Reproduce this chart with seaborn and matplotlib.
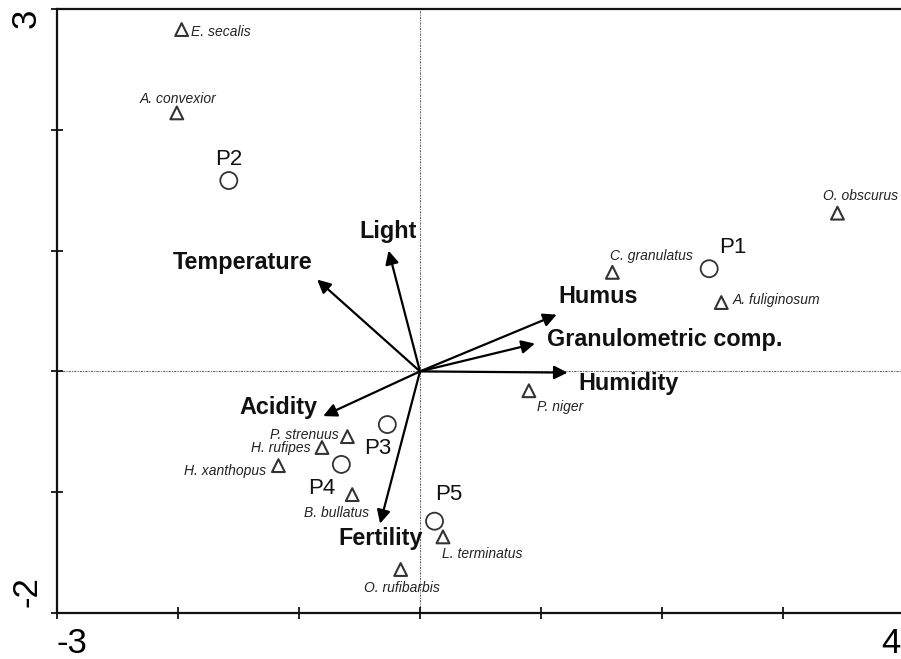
import matplotlib
matplotlib.use("Agg")
import matplotlib.pyplot as plt
import matplotlib.transforms as mtrans
import seaborn as sns
import pandas as pd

# Sites (circles)
site_names = ["P1", "P2", "P3", "P4", "P5"]
site_x = [2.39, -1.58, -0.27, -0.65, 0.12]
site_y = [0.85, 1.58, -0.44, -0.77, -1.24]

# Species (triangles)
species_names = ["E. secalis", "A. convexior", "O. obscurus", "C. granulatus",
                 "A. fuliginosum", "P. niger", "P. strenuus", "H. rufipes",
                 "H. xanthopus", "B. bullatus", "L. terminatus", "O. rufibarbis"]
species_x = [-1.97, -2.01, 3.45, 1.59, 2.49, 0.90, -0.60, -0.81, -1.17, -0.56, 0.19, -0.16]
species_y = [2.83, 2.14, 1.31, 0.82, 0.57, -0.16, -0.54, -0.63, -0.78, -1.02, -1.37, -1.64]

# Environmental variables (arrows)
env_names = ["Light", "Temperature", "Humus", "Granulometric comp.",
             "Humidity", "Acidity", "Fertility"]
env_x = [-0.26, -0.85, 1.13, 0.95, 1.22, -0.80, -0.33]
env_y = [1.00, 0.76, 0.47, 0.23, -0.01, -0.37, -1.26]

sites = pd.DataFrame({"name": site_names, "x": site_x, "y": site_y})
species = pd.DataFrame({"name": species_names, "x": species_x, "y": species_y})

sns.set_style("ticks")
plt.rcParams["font.family"] = ["Liberation Sans", "DejaVu Sans"]

fig = plt.figure(figsize=(9.01, 6.59), dpi=100)
ax = fig.add_axes([57 / 901, 46 / 659, 847 / 901, 604 / 659])

ax.axhline(0, color="#666666", lw=0.8, ls=(0, (2, 1, 1, 1)), zorder=0)
ax.axvline(0, color="#666666", lw=0.8, ls=(0, (2, 1, 1, 1)), zorder=0)

sns.scatterplot(data=species, x="x", y="y", marker="^", s=85,
                facecolor="none", edgecolor="#333333", linewidth=1.5, ax=ax, zorder=3)
sns.scatterplot(data=sites, x="x", y="y", marker="o", s=150,
                facecolor="none", edgecolor="#333333", linewidth=1.3, ax=ax, zorder=3)

# label placement (offset in points, ha, va)
species_lbl = {
    "E. secalis": (7, -2, "left", "center"),
    "A. convexior": (1, 10, "center", "center"),
    "O. obscurus": (17, 12, "center", "center"),
    "C. granulatus": (28, 12, "center", "center"),
    "A. fuliginosum": (8, 2, "left", "center"),
    "P. niger": (6, -12, "left", "center"),
    "P. strenuus": (-6, 1, "right", "center"),
    "H. rufipes": (-8, 0, "right", "center"),
    "H. xanthopus": (-9, -4, "right", "center"),
    "B. bullatus": (-11, -13, "center", "center"),
    "L. terminatus": (-1, -12, "left", "center"),
    "O. rufibarbis": (1, -13, "center", "center"),
}
for n, x, y in zip(species_names, species_x, species_y):
    dx, dy, ha, va = species_lbl[n]
    ax.annotate(n, (x, y), xytext=(dx, dy), textcoords="offset points",
                ha=ha, va=va, fontsize=10, style="italic", color="#222222")

site_lbl = {
    "P1": (17, 15), "P2": (0, 15), "P3": (-7, -17), "P4": (-14, -17), "P5": (10, 19),
}
for n, x, y in zip(site_names, site_x, site_y):
    dx, dy = site_lbl[n]
    ax.annotate(n, (x, y), xytext=(dx, dy), textcoords="offset points",
                ha="center", va="center", fontsize=16, color="#111111")

env_lbl = {
    "Light": (0, 14, "center"),
    "Temperature": (-54, 12, "center"),
    "Humus": (1, 13, "left"),
    "Granulometric comp.": (9, 3, "left"),
    "Humidity": (8, -8, "left"),
    "Acidity": (-4, 6, "right"),
    "Fertility": (0, -11, "center"),
}
for n, x, y in zip(env_names, env_x, env_y):
    ax.annotate("", xy=(x, y), xytext=(0, 0),
                arrowprops=dict(arrowstyle="-|>", color="black", lw=1.6,
                                mutation_scale=20, shrinkA=0, shrinkB=0))
    dx, dy, ha = env_lbl[n]
    ax.annotate(n, (x, y), xytext=(dx, dy), textcoords="offset points",
                ha=ha, va="center", fontsize=16.8, fontweight="bold", color="#111111")

ax.set_xlim(-3, 4)
ax.set_ylim(-2, 3)
ax.set_xticks(range(-3, 5))
ax.set_xticklabels(["-3", "", "", "", "", "", "", "4"])
ax.set_yticks(range(-2, 4))
ax.set_yticklabels(["-2", "", "", "", "", "3"], rotation=90)
ax.tick_params(direction="inout", length=8, width=1.2, labelsize=25, pad=6, colors="black")

xl = ax.get_xticklabels()
yl = ax.get_yticklabels()
xl[0].set_ha("left")
xl[-1].set_ha("right")
xl[-1].set_transform(xl[-1].get_transform() +
                     mtrans.ScaledTranslation(-4 / 100, 0, fig.dpi_scale_trans))
yl[0].set_va("bottom")
yl[0].set_transform(yl[0].get_transform() +
                    mtrans.ScaledTranslation(0, 6 / 100, fig.dpi_scale_trans))
yl[-1].set_va("top")
ax.set_xlabel("")
ax.set_ylabel("")

for side in ["left", "bottom", "top"]:
    ax.spines[side].set_linewidth(1.6)
    ax.spines[side].set_color("#111111")
ax.spines["right"].set_visible(False)

fig.savefig("out.png", dpi=100)
